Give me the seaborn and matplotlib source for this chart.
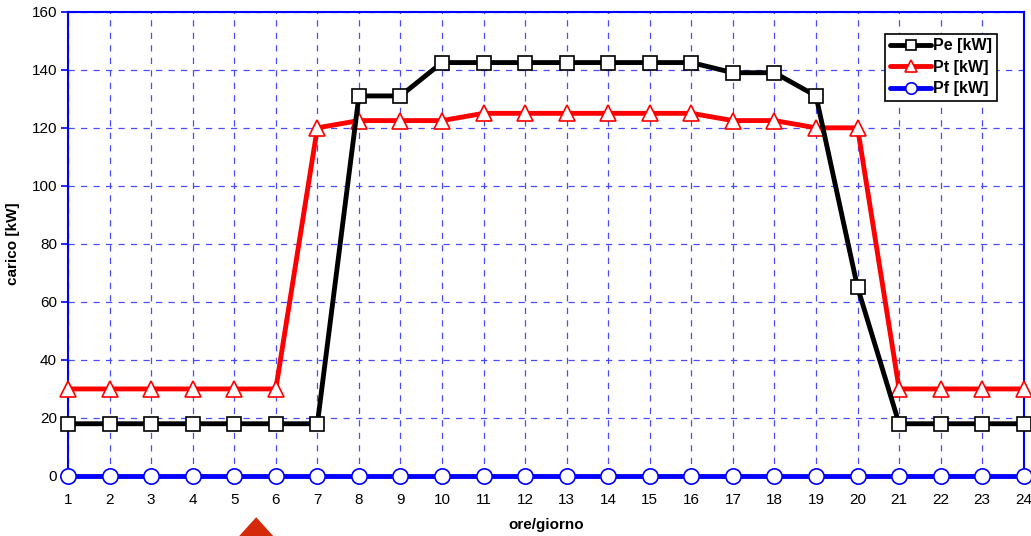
import numpy as np
import pandas as pd
import matplotlib.pyplot as plt
import seaborn as sns
from matplotlib.patches import Polygon

ore = list(range(1, 25))
pe = [18, 18, 18, 18, 18, 18, 18, 131, 131, 142.5, 142.5, 142.5, 142.5, 142.5, 142.5, 142.5,
      139, 139, 131, 65, 18, 18, 18, 18]
pt = [30, 30, 30, 30, 30, 30, 120, 122.5, 122.5, 122.5, 125, 125, 125, 125, 125, 125,
      122.5, 122.5, 120, 120, 30, 30, 30, 30]
pf = [0] * 24

df = pd.DataFrame({"ore": ore, "Pe [kW]": pe, "Pt [kW]": pt, "Pf [kW]": pf})

sns.set_theme(style="white")
plt.rcParams["font.family"] = ["Liberation Sans", "DejaVu Sans"]
plt.rcParams["text.color"] = "black"
plt.rcParams["axes.labelcolor"] = "black"
plt.rcParams["xtick.color"] = "black"
plt.rcParams["ytick.color"] = "black"

fig = plt.figure(figsize=(10.31, 5.36), dpi=100)
ax = fig.add_axes([0.066, 0.112, 0.927, 0.866])

blue = "#0000ff"
sns.lineplot(data=df, x="ore", y="Pe [kW]", ax=ax, color="black", lw=3.5, marker="s",
             markersize=10, markerfacecolor="white", markeredgecolor="black",
             markeredgewidth=1.2, label="Pe [kW]", zorder=4, clip_on=False)
sns.lineplot(data=df, x="ore", y="Pt [kW]", ax=ax, color="red", lw=3.5, marker="^",
             markersize=11, markerfacecolor="white", markeredgecolor="red",
             markeredgewidth=1.2, label="Pt [kW]", zorder=3, clip_on=False)
sns.lineplot(data=df, x="ore", y="Pf [kW]", ax=ax, color=blue, lw=3.5, marker="o",
             markersize=11, markerfacecolor="white", markeredgecolor=blue,
             markeredgewidth=1.2, label="Pf [kW]", zorder=5, clip_on=False)

ax.set_xlim(1, 24)
ax.set_ylim(0, 160)
ax.set_xticks(ore)
ax.set_yticks(range(0, 161, 20))
ax.grid(True, color="#4a4aff", linestyle=(0, (5, 5)), lw=0.9)
for s in ax.spines.values():
    s.set_color(blue)
    s.set_linewidth(1.5)
ax.tick_params(axis="y", length=5, color=blue, width=1.2, labelsize=11, pad=3, left=True,
               labelcolor="black")
ax.tick_params(axis="x", length=0, labelsize=11, pad=12, labelcolor="black")

ax.set_xlabel("ore/giorno", fontsize=11, fontweight="bold", labelpad=8)
ax.set_ylabel("carico [kW]", fontsize=11, fontweight="bold", labelpad=8)

leg = ax.legend(loc="upper right", bbox_to_anchor=(0.98, 0.97), frameon=True,
                fancybox=False, edgecolor="black", framealpha=1,
                prop={"weight": "bold", "size": 11.5}, handlelength=2.6,
                handletextpad=0.1, borderpad=0.3, labelspacing=0.4, markerscale=0.75)
leg.get_frame().set_linewidth(1.2)

# stray red arrow at the bottom of the image
fig.patches.append(Polygon([[0.232, 0.0], [0.2485, 0.035], [0.265, 0.0]], closed=True,
                           transform=fig.transFigure, facecolor="#d42a0a",
                           edgecolor="none"))

fig.savefig("out.png", dpi=100)
